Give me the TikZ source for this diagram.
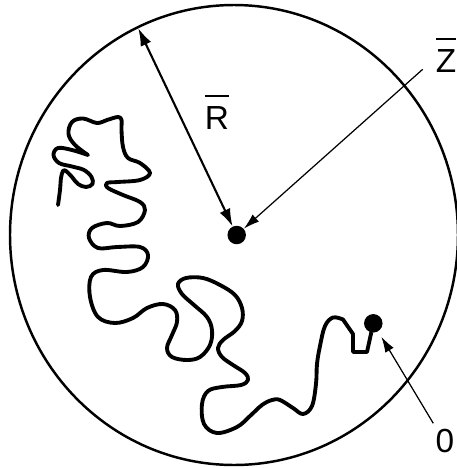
\documentclass[tikz,border=0pt]{standalone}
\usepackage{fontspec}
\setmainfont{Liberation Sans}
\usetikzlibrary{arrows.meta}
\newcommand\barlabel[1]{\setbox0\hbox{#1}\vbox{\hrule width\wd0 height1.3pt\vskip5pt\box0}}

\begin{document}
\begin{tikzpicture}[>=Latex,x=0.02cm,y=-0.02cm,font=\fontsize{19}{22}\selectfont,
  dot/.style={circle,fill,inner sep=0pt,minimum size=0.37cm},
  thin arrow/.style={->,line width=0.7pt,>={Latex[length=9pt,width=5.5pt]}},
  chain/.style={line width=2.2pt,line join=round,line cap=round}]
\useasboundingbox (0,0) rectangle (457,468);
\draw[line width=1.4pt] (234,235) ellipse [x radius=224,y radius=230];
\node[dot] (c) at (236.7,235){}; \node[dot] (o) at (373.3,323.3){};
\node[anchor=base] (rlab) at (217,129){\barlabel{R}};
\node[anchor=base] (zlab) at (446,72){\barlabel{Z}};
\node[anchor=base] (olab) at (445,452){0};
\coordinate (rim) at (138.3,28.3); \coordinate (zs) at (422.7,69.3); \coordinate (os) at (433.3,423.3);
\draw[<->,line width=1.2pt,>={Latex[length=10pt,width=6.5pt]}] (rim) -- (c);
\draw[thin arrow] (zs) -- (c);
\draw[thin arrow,shorten >=3.4pt] (os) -- (o);
% the chain, from the end at the dot to the free end on the left
\draw[chain] (o) -- (367,352) -- (353,352) -- (353,334) -- (343,319.5)
  -- plot[smooth,tension=0.6] coordinates {(343,319.5) (333,317.5) (325,326) (320,346) (317,364) (316,384) (312,406)
   (303,414) (293,408) (280,400) (272,400) (262,405) (250,416) (237,427) (217,433) (204,424) (202,404) (208,391)
   (222,387) (241,385) (248,380) (245,373) (233,365) (222,357) (218,348) (223,340) (235,331) (242,321) (242,308)
   (235,295) (220,285) (203,278) (186,278) (178,284) (182,294) (194,305) (207,317) (212,330) (210,345) (200,357)
   (187,360) (172,357) (167,348) (172,335) (177,322) (175,310) (163,304) (147,308) (133,318) (115,323) (98,317)
   (90,297) (91,277) (103,270) (127,272) (143,267) (148,255) (140,247) (117,247) (98,248) (89,238) (92,228)
   (107,223) (120,226) (138,222) (145,210) (140,202) (123,195) (108,188) (107,183) (118,182) (140,180) (150,173)
   (140,163) (128,158) (123,147) (121.5,130) (121.5,120) (118,117) (107,120) (97,123) (83,118.5) (72,122)
   (68.5,134) (75,145) (88,155)}
  -- plot[smooth,tension=0.6] coordinates {(88,155) (72,150) (58,148) (53.5,155) (59,163) (72,166.5) (84,170)
   (91.5,177) (92.5,184) (86,187) (78,184) (72,177) (66,171) (63,171) (61,178) (60,190) (58,205)};
\end{tikzpicture}
\end{document}
